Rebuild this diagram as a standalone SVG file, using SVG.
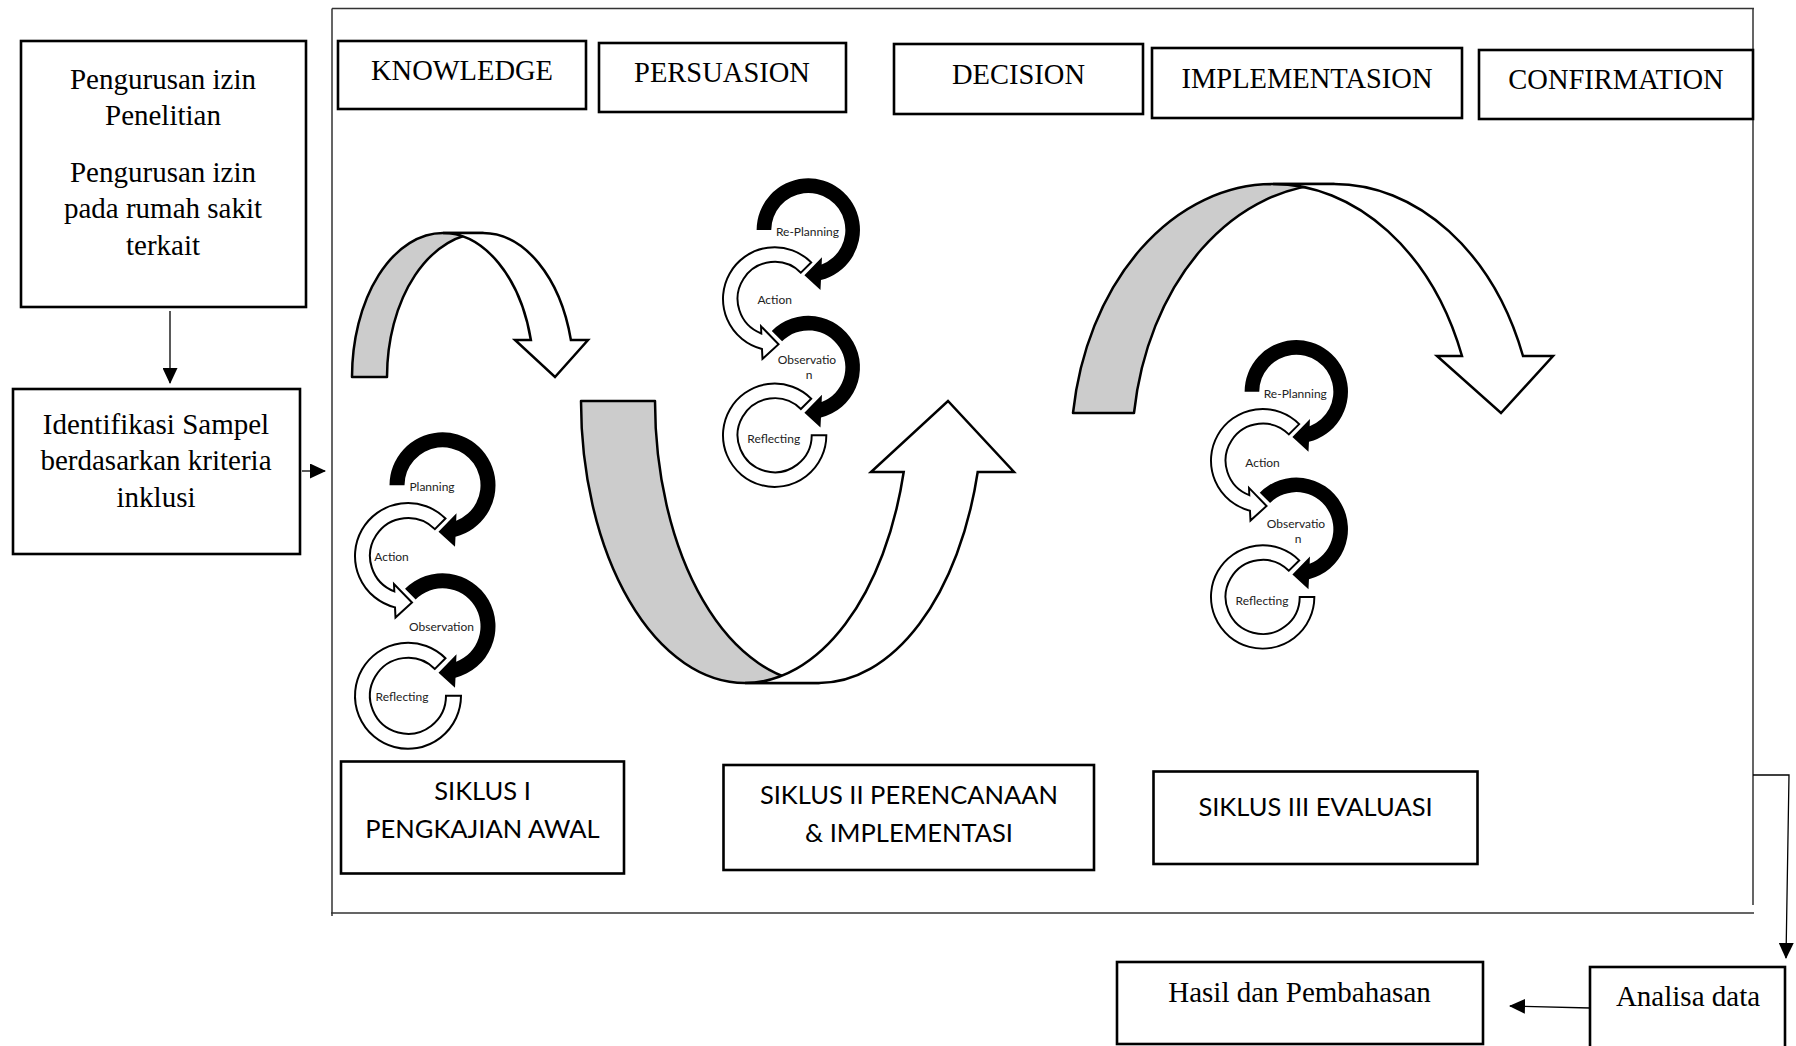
<svg xmlns="http://www.w3.org/2000/svg" width="1796" height="1046" viewBox="0 0 1796 1046">
<style>
.bg{fill:#fff}
.box{fill:#fff;stroke:#000;stroke-width:2.6}
.serif{font-family:"Liberation Serif","Times New Roman",serif;font-size:29px;fill:#000;text-anchor:middle}
.top{font-size:28.5px}
.sans{font-family:Lato,"Liberation Sans",sans-serif;font-size:25.5px;fill:#000;text-anchor:middle}
.small{font-family:Lato,"Liberation Sans",sans-serif;font-size:12px;fill:#222;text-anchor:middle}
.frame{fill:none;stroke:#333;stroke-width:1.5}
.conn{fill:none;stroke:#000;stroke-width:1.3}
.blk{fill:#000}
.wht{fill:#fff;stroke:#000;stroke-width:2}
.gray{fill:#cccccc;stroke:#000;stroke-width:2.5;stroke-linejoin:round}
.bigw{fill:#fff;stroke:#000;stroke-width:2.5;stroke-linejoin:miter}
</style>
<defs>
<marker id="ah" markerUnits="userSpaceOnUse" markerWidth="16" markerHeight="15" refX="15" refY="7.5" orient="auto">
<path d="M0,0 L16,7.5 L0,15 Z" fill="#000"/>
</marker>
<g id="cycle">
<path class="blk" d="M -53,0 A 53 53 0 1 1 13,51.38 L 12.5,61.5 L -4,46.5 L 14,28 L 13.7,35.44 A 38 38 0 1 0 -38,0 Z"/>
<path class="blk" d="M -37.48,103.52 A 53 53 0 1 1 13,192.38 L 12.5,202.5 L -4,187.5 L 14,169 L 13.7,176.44 A 38 38 0 1 0 -26.87,114.13 Z"/>
<path class="wht" d="M 2.98,33.22 A 53 53 0 1 0 -47.5,122.08 L -47,132.2 L -30.5,117.2 L -48.5,98.7 L -48.2,106.14 A 38 38 0 1 1 -7.63,43.83 Z"/>
<path class="wht" d="M 2.98,173.02 A 53 53 0 1 0 18.5,210.5 L 3.5,210.5 A 38 38 0 1 1 -7.63,183.63 Z"/>
</g>
</defs>
<rect class="bg" x="0" y="0" width="1796" height="1046"/>

<g id="frame">
<path class="frame" d="M332,8.5 H1754 M332,8.5 V916 M1753,8.5 V905 M331,913 H1754"/>
</g>

<g id="connectors">
<path class="conn" d="M170,311 V383" marker-end="url(#ah)"/>
<path class="conn" d="M302,471 H325" marker-end="url(#ah)"/>
<path class="conn" d="M1753,775 H1789 L1786,958" marker-end="url(#ah)"/>
<path class="conn" d="M1590,1008 L1510,1006" marker-end="url(#ah)"/>
</g>

<g id="izin">
<rect class="box" x="21" y="41" width="285" height="266"/>
<text class="serif" x="163" y="89">Pengurusan izin</text>
<text class="serif" x="163" y="125">Penelitian</text>
<text class="serif" x="163" y="182">Pengurusan izin</text>
<text class="serif" x="163" y="218">pada rumah sakit</text>
<text class="serif" x="163" y="255">terkait</text>
</g>

<g id="identifikasi">
<rect class="box" x="13" y="389" width="287" height="165"/>
<text class="serif" x="156" y="434">Identifikasi Sampel</text>
<text class="serif" x="156" y="470">berdasarkan kriteria</text>
<text class="serif" x="156" y="507">inklusi</text>
</g>

<g id="knowledge">
<rect class="box" x="338" y="41" width="248" height="68"/>
<text class="serif top" x="462" y="79.5">KNOWLEDGE</text>
</g>
<g id="persuasion">
<rect class="box" x="599" y="43" width="247" height="69"/>
<text class="serif top" x="722" y="82">PERSUASION</text>
</g>
<g id="decision">
<rect class="box" x="894" y="44" width="249" height="70"/>
<text class="serif top" x="1018.5" y="84">DECISION</text>
</g>
<g id="implementasion">
<rect class="box" x="1152" y="48" width="310" height="70"/>
<text class="serif top" x="1307" y="87.5">IMPLEMENTASION</text>
</g>
<g id="confirmation">
<rect class="box" x="1479" y="50" width="274" height="69"/>
<text class="serif top" x="1616" y="88.5">CONFIRMATION</text>
</g>

<g id="arrow-siklus1">
<path class="gray" d="M 352,377 A 91 144 0 0 1 443,233 L 483,233 A 96 144 0 0 0 387,377 Z"/>
<path class="bigw" d="M 443,233 L 483,233 A 91 144 0 0 1 570.9,340 L 588,340 L 555,377 L 515,340 L 530.9,340 A 91 144 0 0 0 443,233 Z"/>
</g>
<g id="arrow-siklus2">
<path class="gray" d="M 581,401 A 164 282 0 0 0 745,683 L 819,683 A 164 282 0 0 1 655,401 Z"/>
<path class="bigw" d="M 745,683 L 819,683 A 164 282 0 0 0 977.7,472 L 1014,472 L 948,401 L 871,472 L 903.7,472 A 164 282 0 0 1 745,683 Z"/>
</g>
<g id="arrow-siklus3">
<path class="gray" d="M 1073,413 A 202 266 0 0 1 1273,184 L 1334,184 A 202 266 0 0 0 1134,413 Z"/>
<path class="bigw" d="M 1273,184 L 1334,184 A 202 266 0 0 1 1523,356 L 1553,356 L 1501,413 L 1437,356 L 1462,356 A 202 266 0 0 0 1273,184 Z"/>
</g>

<g id="cycle1">
<use href="#cycle" transform="translate(442.5,485.3)"/>
<text class="small" x="432" y="491">Planning</text>
<text class="small" x="391.5" y="561">Action</text>
<text class="small" x="441.5" y="631">Observation</text>
<text class="small" x="402" y="700.5">Reflecting</text>
</g>
<g id="cycle2">
<use href="#cycle" transform="translate(808.3,230) scale(0.975)"/>
<text class="small" x="807.5" y="236">Re-Planning</text>
<text class="small" x="774.7" y="304">Action</text>
<text class="small" x="807" y="364">Observatio</text>
<text class="small" x="809" y="379">n</text>
<text class="small" x="773.7" y="443">Reflecting</text>
</g>
<g id="cycle3">
<use href="#cycle" transform="translate(1296.3,391.7) scale(0.975)"/>
<text class="small" x="1295.3" y="398">Re-Planning</text>
<text class="small" x="1262.5" y="466.5">Action</text>
<text class="small" x="1296" y="528">Observatio</text>
<text class="small" x="1298" y="542.5">n</text>
<text class="small" x="1262" y="605">Reflecting</text>
</g>

<g id="siklus1">
<rect class="box" x="341" y="761.5" width="283" height="112"/>
<text class="sans" x="482.5" y="800">SIKLUS I</text>
<text class="sans" x="482.5" y="838">PENGKAJIAN AWAL</text>
</g>
<g id="siklus2">
<rect class="box" x="723.5" y="765" width="370.5" height="105"/>
<text class="sans" x="909" y="804">SIKLUS II PERENCANAAN</text>
<text class="sans" x="909" y="842">&amp; IMPLEMENTASI</text>
</g>
<g id="siklus3">
<rect class="box" x="1153.5" y="771.5" width="324" height="92.5"/>
<text class="sans" x="1315.5" y="815.5">SIKLUS III EVALUASI</text>
</g>

<g id="hasil">
<rect class="box" x="1117" y="962" width="366" height="82"/>
<text class="serif" x="1299.5" y="1002">Hasil dan Pembahasan</text>
</g>
<g id="analisa">
<rect class="box" x="1590" y="967" width="195" height="90"/>
<text class="serif" x="1688" y="1006">Analisa data</text>
</g>
</svg>
